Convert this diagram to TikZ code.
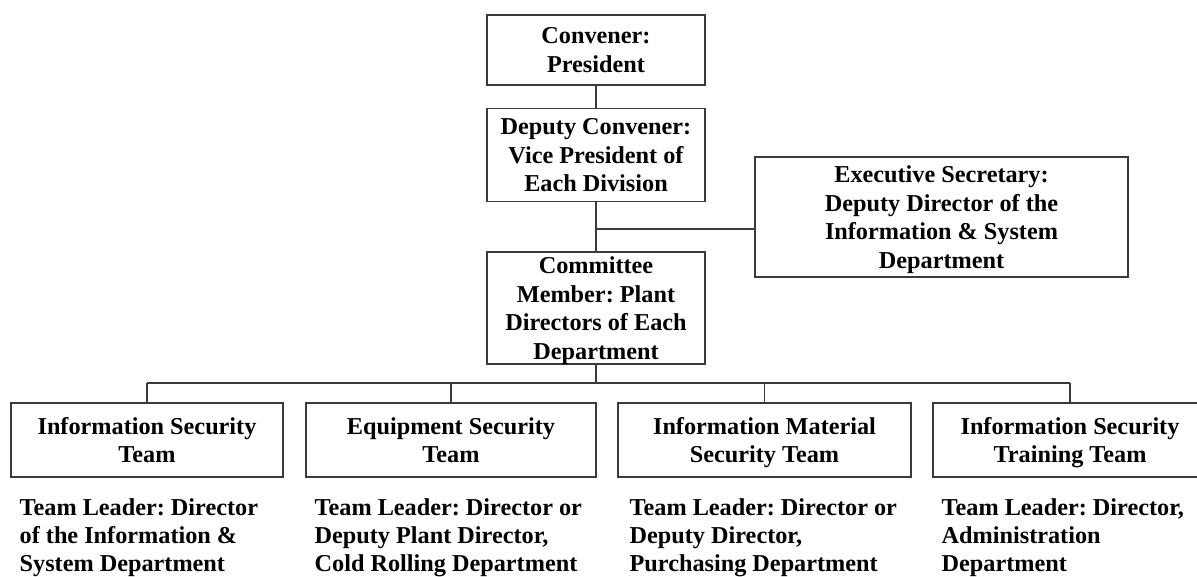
\documentclass[tikz,border=0pt]{standalone}
\usepackage{fontspec}
\setmainfont{Liberation Serif}
\frenchspacing
\usetikzlibrary{positioning}
\definecolor{lineGray}{HTML}{3A3A3A}
\tikzset{
  unit/.style   = {rectangle, draw=lineGray, line width=0.8pt,
                   inner sep=0pt, align=center, text depth=-1pt,
                   font=\fontsize{13.8}{16.2}\selectfont\bfseries},
  team/.style   = {unit, minimum height=1.48cm},
  leader/.style = {inner sep=0pt, align=left,
                   font=\fontsize{13.8}{15.9}\selectfont\bfseries},
  link/.style   = {draw=lineGray, line width=0.8pt}
}

\begin{document}
\begin{tikzpicture}[x=0.02cm, y=-0.02cm]
\useasboundingbox (0,0) rectangle (1197,577);

\node[unit, minimum width=4.36cm, minimum height=1.40cm] (conv) at (596,50)
  {Convener:\\President};
\node[unit, minimum width=4.36cm, minimum height=1.86cm] (dep) at (596,155)
  {Deputy Convener:\\Vice President of\\Each Division};
\node[unit, minimum width=4.36cm, minimum height=2.24cm] (com) at (596,308)
  {Committee\\Member: Plant\\Directors of Each\\Department};
\node[unit, minimum width=7.46cm, minimum height=2.40cm] (sec) at (941.5,217)
  {Executive Secretary:\\Deputy Director of the\\Information \& System\\Department};

\node[team, minimum width=5.44cm] (t1) at (147,440)
  {Information Security\\Team};
\node[team, minimum width=5.80cm] (t2) at (451,440)
  {Equipment Security\\Team};
\node[team, minimum width=5.86cm] (t3) at (764.5,440)
  {Information Material\\Security Team};
\node[team, minimum width=5.48cm] (t4) at (1070,440)
  {Information Security\\Training Team};

\node[leader, below right=0.42cm and 0.18cm of t1.south west] (l1)
  {Team Leader: Director\\of the Information \&\\System Department};
\node[leader, below right=0.42cm and 0.18cm of t2.south west] (l2)
  {Team Leader: Director or\\Deputy Plant Director,\\Cold Rolling Department};
\node[leader, below right=0.42cm and 0.24cm of t3.south west] (l3)
  {Team Leader: Director or\\Deputy Director,\\Purchasing Department};
\node[leader, below right=0.42cm and 0.18cm of t4.south west] (l4)
  {Team Leader: Director,\\Administration\\Department};

\coordinate (j) at (596,229);
\coordinate (bus) at (596,383);

\draw[link] (conv) -- (dep);
\draw[link] (dep) -- (com);
\draw[link] (j) -- (j -| sec.west);
\draw[link] (com) -- (bus);
\draw[link] (t1.north |- bus) -- (t4.north |- bus);
\foreach \t in {t1,t2,t3,t4}
  \draw[link] (\t.north |- bus) -- (\t.north);
\end{tikzpicture}
\end{document}
